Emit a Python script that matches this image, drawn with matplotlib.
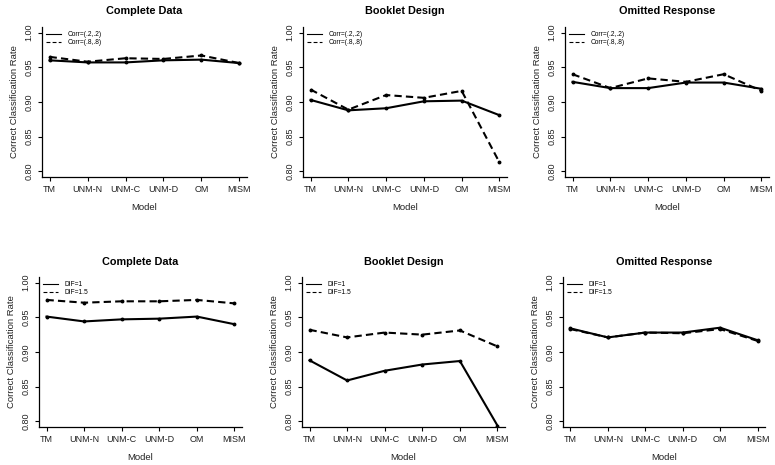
import matplotlib
matplotlib.use("Agg")
import matplotlib.pyplot as plt

plt.rcParams['font.family'] = ['Liberation Sans Narrow', 'Liberation Sans', 'DejaVu Sans']

models = ["TM", "UNM-N", "UNM-C", "UNM-D", "OM", "MISM"]
yticks = [0.80, 0.85, 0.90, 0.95, 1.00]
ytick_labels = ["0.80", "0.85", "0.90", "0.95", "1.00"]

titles = ["Complete Data", "Booklet Design", "Omitted Response"]
corr_labels = ["Corr=(.2,.2)", "Corr=(.8,.8)"]
dif_labels = ["DIF=1", "DIF=1.5"]

# Top row: correlation conditions
cd_corr_low = [0.960, 0.957, 0.957, 0.960, 0.961, 0.956]
cd_corr_high = [0.965, 0.958, 0.963, 0.962, 0.967, 0.956]
bd_corr_low = [0.903, 0.888, 0.891, 0.901, 0.902, 0.881]
bd_corr_high = [0.918, 0.889, 0.910, 0.906, 0.916, 0.813]
or_corr_low = [0.929, 0.920, 0.920, 0.928, 0.928, 0.919]
or_corr_high = [0.940, 0.920, 0.934, 0.929, 0.940, 0.916]

# Bottom row: DIF conditions
cd_dif1 = [0.951, 0.944, 0.947, 0.948, 0.951, 0.940]
cd_dif15 = [0.975, 0.971, 0.973, 0.973, 0.975, 0.970]
bd_dif1 = [0.888, 0.859, 0.873, 0.882, 0.887, 0.794]
bd_dif15 = [0.932, 0.921, 0.928, 0.925, 0.931, 0.908]
or_dif1 = [0.934, 0.921, 0.928, 0.928, 0.935, 0.917]
or_dif15 = [0.933, 0.921, 0.928, 0.927, 0.933, 0.916]

W, H = 775, 465
fig = plt.figure(figsize=(W / 100, H / 100), dpi=100)

# pixel boxes (left, right, top, bottom)
boxes = [
    (42, 247, 27, 177), (303, 507, 27, 177), (565, 769, 27, 177),
    (39, 242, 277, 427), (302, 505, 277, 427), (563, 765, 277, 427),
]
panels = [
    (titles[0], cd_corr_low, cd_corr_high, corr_labels),
    (titles[1], bd_corr_low, bd_corr_high, corr_labels),
    (titles[2], or_corr_low, or_corr_high, corr_labels),
    (titles[0], cd_dif1, cd_dif15, dif_labels),
    (titles[1], bd_dif1, bd_dif15, dif_labels),
    (titles[2], or_dif1, or_dif15, dif_labels),
]

x = list(range(len(models)))
for (l, r, t, b), (title, s1, s2, labs) in zip(boxes, panels):
    ax = fig.add_axes([l / W, 1 - b / H, (r - l) / W, (b - t) / H])
    ax.plot(x, s1, color='black', lw=1.5, ls='-', marker='o', ms=1.8, label=labs[0])
    ax.plot(x, s2, color='black', lw=1.5, ls=(0, (3.5, 2)), marker='o', ms=1.8, label=labs[1])
    ax.set_xlim(-0.2, 5.2)
    ax.set_ylim(0.792, 1.008)
    ax.set_xticks(x)
    ax.set_xticklabels(models, fontsize=6.5, color='#222222')
    ax.set_yticks(yticks)
    ax.set_yticklabels(ytick_labels, fontsize=6.5, rotation=90, va='center', color='#222222')
    for sp in ['top', 'right']:
        ax.spines[sp].set_visible(False)
    for sp in ['left', 'bottom']:
        ax.spines[sp].set_linewidth(0.9)
    ax.tick_params(length=3, width=0.8, pad=3)
    ax.set_title(title, fontsize=7.8, fontweight='bold', pad=9)
    ax.set_xlabel("Model", fontsize=6.8, labelpad=6, color='#222222')
    ax.set_ylabel("Correct Classification Rate", fontsize=6.8, labelpad=4, color='#222222')
    leg = ax.legend(loc='upper left', frameon=False, fontsize=4.8, handlelength=2.2,
                    handletextpad=1.0, borderaxespad=0.2, labelspacing=0.2)
    for line in leg.get_lines():
        line.set_linewidth(0.8)
        line.set_marker('')

fig.savefig("out.png", dpi=100)
